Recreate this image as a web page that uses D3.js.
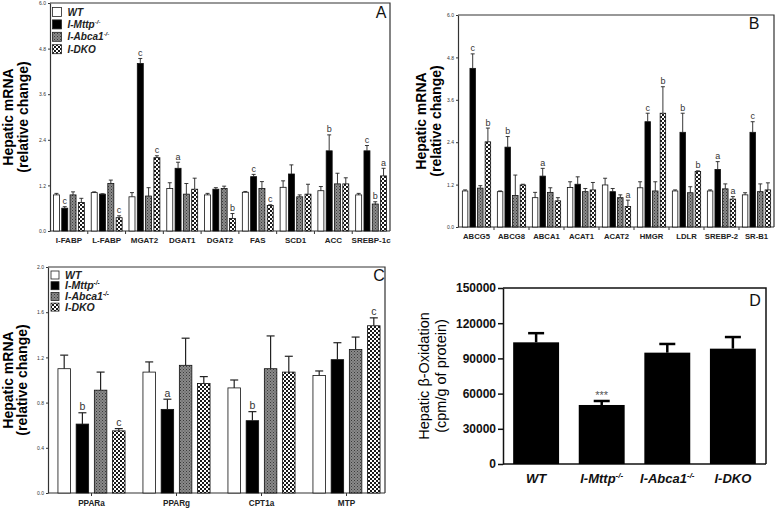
<!DOCTYPE html>
<html><head><meta charset="utf-8">
<script src="https://cdn.jsdelivr.net/npm/d3@7"></script>
<style>body{margin:0;background:#fff}svg{display:block;font-family:"Liberation Sans",Arial,sans-serif}</style>
</head><body><svg id="c" width="778" height="509"></svg>
<script>
// ---------- DATA ----------
const seriesKeys = ["WT","I-Mttp","I-Abca1","I-DKO"];

// Panel A
const groupsA = ["I-FABP","L-FABP","MGAT2","DGAT1","DGAT2","FAS","SCD1","ACC","SREBP-1c"];
const wtA      = [0.95, 1.01, 0.90, 1.12, 0.95, 1.02, 1.15, 1.06, 0.95];
const wtErrA   = [0.99, 1.03, 1.01, 1.27, 0.99, 1.04, 1.32, 1.17, 0.99];
const mttpA    = [0.60, 0.97, 4.41, 1.65, 1.10, 1.43, 1.50, 2.11, 2.11];
const mttpErrA = [0.64, 0.98, 4.54, 1.81, 1.14, 1.49, 1.74, 2.53, 2.25];
const abcaA    = [0.95, 1.25, 0.92, 0.97, 1.12, 1.12, 0.90, 1.24, 0.71];
const abcaErrA = [1.03, 1.34, 1.14, 1.25, 1.18, 1.30, 0.95, 1.52, 0.77];
const dkoA     = [0.75, 0.35, 1.93, 1.10, 0.33, 0.67, 0.97, 1.24, 1.45];
const dkoErrA  = [0.86, 0.40, 1.98, 1.39, 0.46, 0.69, 1.23, 1.40, 1.65];
const mttpLetA = ["c","","c","a","","c","","b","c"];
const abcaLetA = ["","","","","","","","","b"];
const dkoLetA  = ["","c","c","","b","c","","","a"];
const ticksA   = [0, 1.2, 2.4, 3.6, 4.8, 6.0];

// Panel B
const groupsB = ["ABCG5","ABCG8","ABCA1","ACAT1","ACAT2","HMGR","LDLR","SREBP-2","SR-B1"];
const wtB      = [1.02, 1.00, 0.83, 1.12, 1.19, 1.11, 1.02, 1.02, 0.91];
const wtErrB   = [1.05, 1.02, 0.98, 1.28, 1.38, 1.28, 1.05, 1.05, 0.97];
const mttpB    = [4.49, 2.26, 1.44, 1.21, 1.00, 2.98, 2.68, 1.63, 2.68];
const mttpErrB = [4.90, 2.56, 1.66, 1.42, 1.09, 3.22, 3.22, 1.85, 2.98];
const abcaB    = [1.10, 0.89, 0.98, 1.00, 0.83, 1.02, 0.97, 1.08, 1.00];
const abcaErrB = [1.17, 1.47, 1.11, 1.09, 0.91, 1.28, 1.14, 1.22, 1.22];
const dkoB     = [2.41, 1.19, 0.74, 1.05, 0.58, 3.22, 1.57, 0.79, 1.05];
const dkoErrB  = [2.80, 1.21, 0.83, 1.26, 0.76, 3.97, 1.59, 0.86, 1.25];
const mttpLetB = ["c","b","a","","","c","b","a","c"];
const abcaLetB = ["","","","","","","","",""];
const dkoLetB  = ["b","","","","a","b","b","a",""];
const ticksB   = [0, 1.2, 2.4, 3.6, 4.8, 6.0];

// Panel C
const groupsC = ["PPARa","PPARg","CPT1a","MTP"];
const wtC      = [1.10, 1.07, 0.93, 1.04];
const wtErrC   = [1.22, 1.16, 1.00, 1.08];
const mttpC    = [0.61, 0.74, 0.64, 1.18];
const mttpErrC = [0.71, 0.83, 0.72, 1.33];
const abcaC    = [0.91, 1.13, 1.10, 1.27];
const abcaErrC = [1.07, 1.37, 1.39, 1.38];
const dkoC     = [0.55, 0.97, 1.07, 1.48];
const dkoErrC  = [0.57, 1.03, 1.21, 1.55];
const mttpLetC = ["b","a","b",""];
const abcaLetC = ["","","",""];
const dkoLetC  = ["c","","","c"];
const ticksC   = [0, 0.4, 0.8, 1.2, 1.6, 2.0];

// Panel D
const groupsD = ["WT","I-Mttp","I-Abca1","I-DKO"];
const supD    = ["","-/-","-/-",""];
const oxD     = [103700, 50300, 94900, 98300];
const oxErrD  = [111500, 53700, 102300, 108200];
const oxLetD  = ["","***","",""];
const ticksD  = [0, 30000, 60000, 90000, 120000, 150000];

// ---------- DRAW ----------
const svg = d3.select("#c");
const defs = svg.append("defs");
const pa = defs.append("pattern").attr("id","pAb").attr("width",3).attr("height",3).attr("patternUnits","userSpaceOnUse");
pa.append("rect").attr("width",3).attr("height",3).attr("fill","#8a8a8a");
pa.append("rect").attr("width",1).attr("height",1).attr("fill","#3a3a3a");
pa.append("rect").attr("x",1.5).attr("y",1.5).attr("width",1).attr("height",1).attr("fill","#4a4a4a");
const pd = defs.append("pattern").attr("id","pDko").attr("width",4).attr("height",4).attr("patternUnits","userSpaceOnUse");
pd.append("rect").attr("width",4).attr("height",4).attr("fill","#fff");
pd.append("rect").attr("width",2).attr("height",2).attr("fill","#1a1a1a");
pd.append("rect").attr("x",2).attr("y",2).attr("width",2).attr("height",2).attr("fill","#1a1a1a");
const fills = ["#fff","#000","url(#pAb)","url(#pDko)"];

function legend(x, y0, dy, sz, fs) {
  const g = svg.append("g");
  seriesKeys.forEach((k,i) => {
    const cy = y0 + i*dy;
    g.append("rect").attr("x",x).attr("y",cy-sz/2).attr("width",sz).attr("height",sz)
      .attr("fill",fills[i]).attr("stroke","#222").attr("stroke-width",0.8);
    const t = g.append("text").attr("x",x+sz+6).attr("y",cy+fs*0.36)
      .attr("font-size",fs).attr("font-weight","bold").attr("font-style","italic").attr("fill","#222").text(k);
    if (i===1 || i===2) t.append("tspan").attr("font-size",fs*0.6).attr("dy",-fs*0.4).text("-/-");
  });
}

function yTitle(lines, xs, cy, fs, weight) {
  lines.forEach((l,i) => {
    svg.append("text").attr("transform",`translate(${xs[i]},${cy}) rotate(-90)`)
      .attr("text-anchor","middle").attr("font-size",fs).attr("font-weight",weight).attr("fill","#000").text(l);
  });
}

function barPanel(o) {
  const g = svg.append("g");
  const y = d3.scaleLinear().domain([0,o.max]).range([o.bottom,o.top]);
  const x = d3.scaleBand().domain(o.groups).range(o.xr).padding(0);
  const inner = d3.scaleBand().domain(seriesKeys).range([-2*o.step, 2*o.step])
    .paddingInner(1 - o.bw/o.step).paddingOuter((1 - o.bw/o.step)/2);
  g.append("path").attr("d",`M${o.left},${o.top}H${o.right}V${o.frameBottom}`)
    .attr("fill","none").attr("stroke","#333").attr("stroke-width",1.2);
  const ax = g.append("g").attr("transform",`translate(${o.left},0)`)
    .call(d3.axisLeft(y).tickValues(o.ticks).tickFormat(d3.format(".1f")).tickSize(2).tickPadding(2).tickSizeOuter(0));
  ax.select(".domain").attr("stroke","#333").attr("stroke-width",1.2);
  ax.selectAll(".tick line").attr("stroke","#333");
  ax.selectAll(".tick text").attr("font-size",o.tickFs).attr("fill","#333").attr("font-family","Liberation Sans, Arial, sans-serif");
  g.append("line").attr("x1",o.left).attr("x2",o.right).attr("y1",o.bottom).attr("y2",o.bottom)
    .attr("stroke","#333").attr("stroke-width",1.2);
  const tickPos = o.centerTicks ? o.groups.map(d => x(d)+x.bandwidth()/2)
                                : o.groups.slice(1).map(d => x(d));
  tickPos.forEach(p => g.append("line").attr("x1",p).attr("x2",p).attr("y1",o.bottom).attr("y2",o.bottom+3)
    .attr("stroke","#333"));
  o.groups.forEach(d => g.append("text").attr("x",x(d)+x.bandwidth()/2).attr("y",o.labelY)
    .attr("text-anchor","middle").attr("font-size",o.labelFs).attr("font-weight","bold").attr("fill","#222").text(d));
  o.groups.forEach((grp,i) => {
    const c = x(grp) + x.bandwidth()/2;
    seriesKeys.forEach((s,j) => {
      const v = o.vals[j][i], e = o.errs[j][i];
      const bx = c + inner(s), cx = bx + o.bw/2;
      g.append("rect").attr("x",bx).attr("y",y(v)).attr("width",o.bw).attr("height",y(0)-y(v))
        .attr("fill",fills[j]).attr("stroke","#111").attr("stroke-width",0.8);
      g.append("line").attr("x1",cx).attr("x2",cx).attr("y1",y(v)).attr("y2",y(e))
        .attr("stroke","#222").attr("stroke-width",o.ew);
      g.append("line").attr("x1",cx-o.cap/2).attr("x2",cx+o.cap/2).attr("y1",y(e)).attr("y2",y(e))
        .attr("stroke","#222").attr("stroke-width",o.ew);
      const l = o.lets[j] ? o.lets[j][i] : "";
      if (l) g.append("text").attr("x",cx).attr("y",y(e)-2.5).attr("text-anchor","middle")
        .attr("font-size",o.letFs).attr("fill","#333").text(l);
    });
  });
  g.append("text").attr("x",o.pLetter[0]).attr("y",o.pLetter[1]).attr("text-anchor","middle")
    .attr("font-size",16).attr("fill","#111").text(o.name);
}

barPanel({name:"A", groups:groupsA, max:6, ticks:ticksA, left:50, right:390, top:3, bottom:231, frameBottom:231,
  xr:[50,390], step:8.3, bw:6, cap:4, ew:0.9, tickFs:5, labelFs:8, labelY:243, letFs:9,
  vals:[wtA,mttpA,abcaA,dkoA], errs:[wtErrA,mttpErrA,abcaErrA,dkoErrA], lets:[null,mttpLetA,abcaLetA,dkoLetA],
  pLetter:[381,18]});
barPanel({name:"B", groups:groupsB, max:6, ticks:ticksB, left:458, right:774, top:15, bottom:227, frameBottom:227,
  xr:[459,774], step:7.6, bw:5.5, cap:4, ew:0.9, tickFs:5, labelFs:7.7, labelY:239, letFs:9,
  vals:[wtB,mttpB,abcaB,dkoB], errs:[wtErrB,mttpErrB,abcaErrB,dkoErrB], lets:[null,mttpLetB,abcaLetB,dkoLetB],
  pLetter:[754,29]});
barPanel({name:"C", groups:groupsC, max:2, ticks:ticksC, left:48, right:385, top:267, bottom:493, frameBottom:493,
  xr:[49,389], step:18.2, bw:12.5, cap:8, ew:1.2, tickFs:5, labelFs:8.2, labelY:506, letFs:10.5, centerTicks:true,
  vals:[wtC,mttpC,abcaC,dkoC], errs:[wtErrC,mttpErrC,abcaErrC,dkoErrC], lets:[null,mttpLetC,abcaLetC,dkoLetC],
  pLetter:[379,281]});

legend(52.5, 12, 12.4, 9, 10);
legend(51, 275, 10.7, 8, 10.5);

yTitle(["Hepatic mRNA","(relative change)"], [13,28], 117, 14, "bold");
yTitle(["Hepatic mRNA","(relative change)"], [426,441], 121, 14, "bold");
yTitle(["Hepatic mRNA","(relative change)"], [13,27], 380, 14, "bold");
yTitle(["Hepatic \u03b2-Oxidation","(cpm/g of protein)"], [429,446], 376, 14.5, "normal");

// Panel D
(function(){
  const left=503, right=766, top=288, bottom=464;
  const g = svg.append("g");
  const y = d3.scaleLinear().domain([0,150000]).range([bottom,top]);
  const x = d3.scaleBand().domain(groupsD).range([left,right]).paddingInner(0.3).paddingOuter(0.155);
  g.append("path").attr("d",`M${left},${top}H${right}V${bottom}`).attr("fill","none").attr("stroke","#111").attr("stroke-width",1.5);
  const ax = g.append("g").attr("transform",`translate(${left},0)`)
    .call(d3.axisLeft(y).tickValues(ticksD).tickFormat(d3.format("d")).tickSize(5).tickPadding(2).tickSizeOuter(0));
  ax.select(".domain").attr("stroke","#111").attr("stroke-width",1.5);
  ax.selectAll(".tick line").attr("stroke","#111").attr("stroke-width",1.5);
  ax.selectAll(".tick text").attr("font-size",12).attr("font-weight","bold").attr("fill","#111")
    .attr("font-family","Liberation Sans, Arial, sans-serif");
  g.append("line").attr("x1",left).attr("x2",right).attr("y1",bottom).attr("y2",bottom).attr("stroke","#111").attr("stroke-width",1.5);
  groupsD.forEach((d,i) => {
    const bx = x(d), w = x.bandwidth(), cx = bx + w/2;
    g.append("line").attr("x1",cx).attr("x2",cx).attr("y1",y(oxD[i])).attr("y2",y(oxErrD[i])).attr("stroke","#000").attr("stroke-width",2.5);
    g.append("line").attr("x1",cx-8).attr("x2",cx+8).attr("y1",y(oxErrD[i])).attr("y2",y(oxErrD[i])).attr("stroke","#000").attr("stroke-width",2.5);
    g.append("rect").attr("x",bx).attr("y",y(oxD[i])).attr("width",w).attr("height",y(0)-y(oxD[i])).attr("fill","#000");
    if (oxLetD[i]) g.append("text").attr("x",cx).attr("y",y(oxErrD[i])-2).attr("text-anchor","middle")
      .attr("font-size",11).attr("fill","#555").text(oxLetD[i]);
    const t = g.append("text").attr("x",cx).attr("y",483).attr("text-anchor","middle")
      .attr("font-size",13).attr("font-weight","bold").attr("font-style","italic").attr("fill","#111").text(d);
    if (supD[i]) t.append("tspan").attr("font-size",8).attr("dy",-5).text(supD[i]);
  });
  g.append("text").attr("x",755).attr("y",306).attr("text-anchor","middle").attr("font-size",16).attr("fill","#111").text("D");
})();
</script></body></html>
